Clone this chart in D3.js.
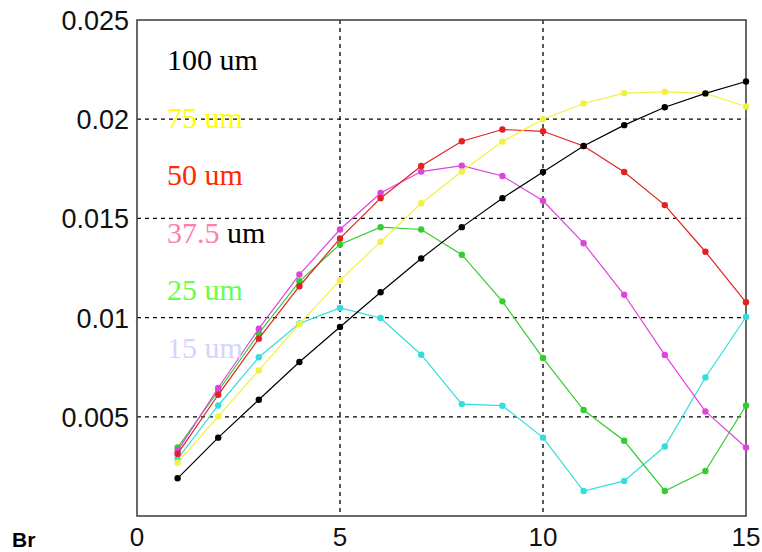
<!DOCTYPE html>
<html>
<head>
<meta charset="UTF-8">
<title>Br chart</title>
<script src="https://cdn.jsdelivr.net/npm/d3@7/dist/d3.min.js"></script>
<style>
  body { margin: 0; background: #fff; }
</style>
</head>
<body>
<div id="chart"></div>
<script>
const xs = [1, 2, 3, 4, 5, 6, 7, 8, 9, 10, 11, 12, 13, 14, 15];

const um100  = [0.0019, 0.00395, 0.00586, 0.00776, 0.00953, 0.01128, 0.01298, 0.01456, 0.01602, 0.01734, 0.01865, 0.0197, 0.0206, 0.0213, 0.0219];
const um75   = [0.00269, 0.00502, 0.00734, 0.00968, 0.01188, 0.01382, 0.01576, 0.01736, 0.01887, 0.0200, 0.02079, 0.02131, 0.02138, 0.0213, 0.02064];
const um50   = [0.00313, 0.00611, 0.00894, 0.01158, 0.01399, 0.01602, 0.01764, 0.01889, 0.01948, 0.01939, 0.01865, 0.01734, 0.01567, 0.01332, 0.01077];
const um37_5 = [0.00328, 0.00645, 0.00944, 0.01217, 0.01444, 0.01628, 0.01736, 0.01766, 0.01714, 0.01589, 0.01375, 0.01115, 0.00812, 0.00527, 0.00345];
const um25   = [0.00345, 0.0063, 0.0092, 0.01183, 0.01369, 0.01456, 0.01444, 0.01317, 0.01082, 0.00796, 0.00534, 0.00379, 0.00126, 0.00227, 0.00557];
const um15   = [0.00288, 0.00557, 0.008, 0.0097, 0.01049, 0.00998, 0.00813, 0.00564, 0.00556, 0.00395, 0.00126, 0.00177, 0.0035, 0.00698, 0.01003];

const xTicks = [0, 5, 10, 15];
const yTicks = [0.005, 0.01, 0.015, 0.02, 0.025];
const yTickLabels = ["0.005", "0.01", "0.015", "0.02", "0.025"];

// drawn bottom to top
const series = [
  { name: "15 um", values: um15, color: "#33dddd" },
  { name: "25 um", values: um25, color: "#33cc33" },
  { name: "37.5 um", values: um37_5, color: "#dd44dd" },
  { name: "50 um", values: um50, color: "#e02222" },
  { name: "75 um", values: um75, color: "#f2f040" },
  { name: "100 um", values: um100, color: "#000000" }
];

const labels = [
  { parts: [["100", "#000"], [" um", "#000"]] },
  { parts: [["75", "#ffff00"], [" um", "#ffff00"]] },
  { parts: [["50", "#ff2a00"], [" um", "#ff2a00"]] },
  { parts: [["37.5", "#ff7fa8"], [" um", "#000"]] },
  { parts: [["25", "#66ff44"], [" um", "#66ff44"]] },
  { parts: [["15", "#d4d4ff"], [" um", "#d4d4ff"]] }
];

const width = 762, height = 552;
const plotLeft = 137, plotRight = 746, plotTop = 20, plotBottom = 516;

const x = d3.scaleLinear().domain([0, 15]).range([plotLeft, plotRight]);
const y = d3.scaleLinear().domain([0, 0.025]).range([plotBottom, plotTop]);

const svg = d3.select("#chart").append("svg")
  .attr("width", width)
  .attr("height", height);

// grid
svg.append("g").selectAll("line")
  .data([5, 10])
  .join("line")
  .attr("x1", d => x(d)).attr("x2", d => x(d))
  .attr("y1", plotTop).attr("y2", plotBottom)
  .attr("stroke", "#000").attr("stroke-width", 1.3)
  .attr("stroke-dasharray", "4,4");

svg.append("g").selectAll("line")
  .data([0.005, 0.01, 0.015, 0.02])
  .join("line")
  .attr("x1", plotLeft).attr("x2", plotRight)
  .attr("y1", d => y(d)).attr("y2", d => y(d))
  .attr("stroke", "#000").attr("stroke-width", 1.3)
  .attr("stroke-dasharray", "4,4");

// frame
svg.append("rect")
  .attr("x", plotLeft).attr("y", plotTop)
  .attr("width", plotRight - plotLeft).attr("height", plotBottom - plotTop)
  .attr("fill", "none").attr("stroke", "#444").attr("stroke-width", 1.6);

// axes labels
svg.append("g").selectAll("text")
  .data(xTicks)
  .join("text")
  .attr("x", d => x(d)).attr("y", 546)
  .attr("text-anchor", "middle")
  .attr("font-family", "Liberation Sans, Arial, sans-serif")
  .attr("font-size", 26)
  .attr("fill", "#111")
  .text(d => d);

svg.append("g").selectAll("text")
  .data(yTicks)
  .join("text")
  .attr("x", 129).attr("y", d => y(d) + 10)
  .attr("text-anchor", "end")
  .attr("font-family", "Liberation Sans, Arial, sans-serif")
  .attr("font-size", 27)
  .attr("fill", "#111")
  .text((d, i) => yTickLabels[i]);

svg.append("text")
  .attr("x", 12).attr("y", 547)
  .attr("font-family", "Liberation Sans, Arial, sans-serif")
  .attr("font-weight", "bold")
  .attr("font-size", 21)
  .text("Br");

// lines
const line = d3.line()
  .x((d, i) => x(xs[i]))
  .y(d => y(d));

series.forEach(s => {
  svg.append("path")
    .datum(s.values)
    .attr("d", line)
    .attr("fill", "none")
    .attr("stroke", s.color)
    .attr("stroke-width", 1.2);
  svg.append("g").selectAll("circle")
    .data(s.values)
    .join("circle")
    .attr("cx", (d, i) => x(xs[i]))
    .attr("cy", d => y(d))
    .attr("r", 3.2)
    .attr("fill", s.color);
});

// in-plot labels
labels.forEach((l, i) => {
  const t = svg.append("text")
    .attr("x", 167).attr("y", 70 + i * 57.5)
    .attr("font-family", "Liberation Serif, Times New Roman, serif")
    .attr("font-size", 30);
  l.parts.forEach(p => {
    t.append("tspan").attr("fill", p[1]).text(p[0]);
  });
});
</script>
</body>
</html>
